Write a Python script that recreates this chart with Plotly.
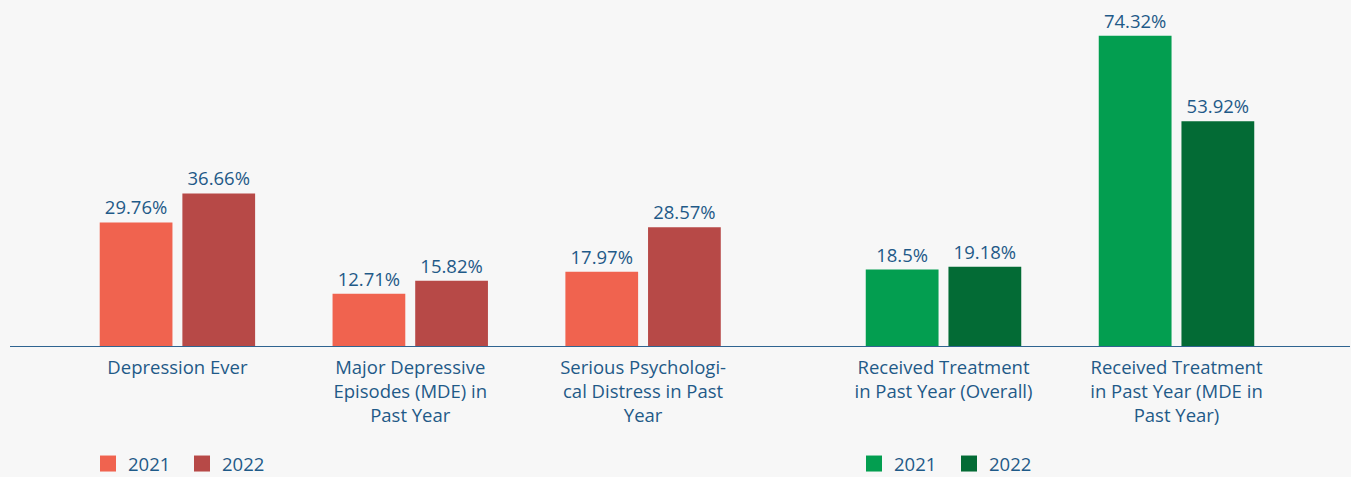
import plotly.graph_objects as go

left_categories = ["Depression Ever",
                   "Major Depressive<br>Episodes (MDE) in<br>Past Year",
                   "Serious Psychologi-<br>cal Distress in Past<br>Year"]
left_2021 = [29.76, 12.71, 17.97]
left_2022 = [36.66, 15.82, 28.57]

right_categories = ["Received Treatment<br>in Past Year (Overall)",
                    "Received Treatment<br>in Past Year (MDE in<br>Past Year)"]
right_2021 = [18.5, 74.32]
right_2022 = [19.18, 53.92]

series_names = ["2021", "2022"]

TEXT = "#1f5a88"
AXIS = "#2f6491"
RED1, RED2 = "#f0634f", "#b74947"
GRN1, GRN2 = "#039e50", "#036b35"
FONT = "Open Sans"
FS = 18.5

def fmt(v):
    return [f"{x:g}%" for x in v]

fig = go.Figure()
bar_specs = [
    (left_categories, left_2021, RED1, "x", "y"),
    (left_categories, left_2022, RED2, "x", "y"),
    (right_categories, right_2021, GRN1, "x2", "y2"),
    (right_categories, right_2022, GRN2, "x2", "y2"),
]
for cats, vals, col, xa, ya in bar_specs:
    fig.add_trace(go.Bar(x=cats, y=vals, marker_color=col, text=fmt(vals),
                         textposition="outside", xaxis=xa, yaxis=ya, showlegend=False,
                         cliponaxis=False, marker_line_width=0, hoverinfo="skip",
                         textfont=dict(family=FONT, size=FS, color=TEXT)))

# legend entries (square markers)
for name, col, lg, xa, ya in [(series_names[0], RED1, "legend", "x", "y"),
                              (series_names[1], RED2, "legend", "x", "y"),
                              (series_names[0], GRN1, "legend2", "x2", "y2"),
                              (series_names[1], GRN2, "legend2", "x2", "y2")]:
    fig.add_trace(go.Scatter(x=[None], y=[None], mode="markers", name=name, legend=lg,
                             marker=dict(symbol="square", size=16, color=col),
                             xaxis=xa, yaxis=ya, hoverinfo="skip"))

H = 477
L, R = 10, 1
W = 1351 - L - R
LEG_Y = 1 - 464 / H
fig.update_layout(
    width=1351, height=H,
    margin=dict(l=L, r=R, t=12, b=130, autoexpand=False),
    paper_bgcolor="#f7f7f7", plot_bgcolor="#f7f7f7",
    font=dict(family=FONT, size=FS, color=TEXT),
    barmode="group", bargap=0.29, bargroupgap=0.12,
    showlegend=True,
    xaxis=dict(domain=[(61 - L) / W, (759.5 - L) / W], type="category", showgrid=False,
               showline=False, ticks="", tickfont=dict(size=FS, color=TEXT), zeroline=False,
               ticklabelstandoff=7, automargin=False),
    xaxis2=dict(domain=[(827 - L) / W, (1293 - L) / W], type="category", showgrid=False,
                showline=False, ticks="", tickfont=dict(size=FS, color=TEXT), zeroline=False,
                ticklabelstandoff=7, automargin=False),
    yaxis=dict(range=[0, 80], visible=False, showgrid=False, zeroline=False),
    yaxis2=dict(range=[0, 80], visible=False, showgrid=False, zeroline=False, anchor="x2",
                matches="y"),
    legend=dict(orientation="h", x=(88 - L) / W, xanchor="left", y=LEG_Y, yref="container",
                yanchor="middle",
                bgcolor="rgba(0,0,0,0)", font=dict(size=FS, color=TEXT), itemclick=False,
                itemdoubleclick=False, entrywidth=49, entrywidthmode="pixels"),
    legend2=dict(orientation="h", x=(854 - L) / W, xanchor="left", y=LEG_Y, yref="container",
                 yanchor="middle",
                 bgcolor="rgba(0,0,0,0)", font=dict(size=FS, color=TEXT), itemclick=False,
                 itemdoubleclick=False, entrywidth=50, entrywidthmode="pixels"),
    shapes=[dict(type="line", xref="paper", yref="y", x0=0, x1=1, y0=0, y1=0,
                 line=dict(color=AXIS, width=2), layer="above")],
)

fig.write_html("out.html", config={"displayModeBar": False},
               post_script="document.body.style.margin='0';document.body.style.overflow='hidden';"
                           "document.body.style.background='#f7f7f7';")
